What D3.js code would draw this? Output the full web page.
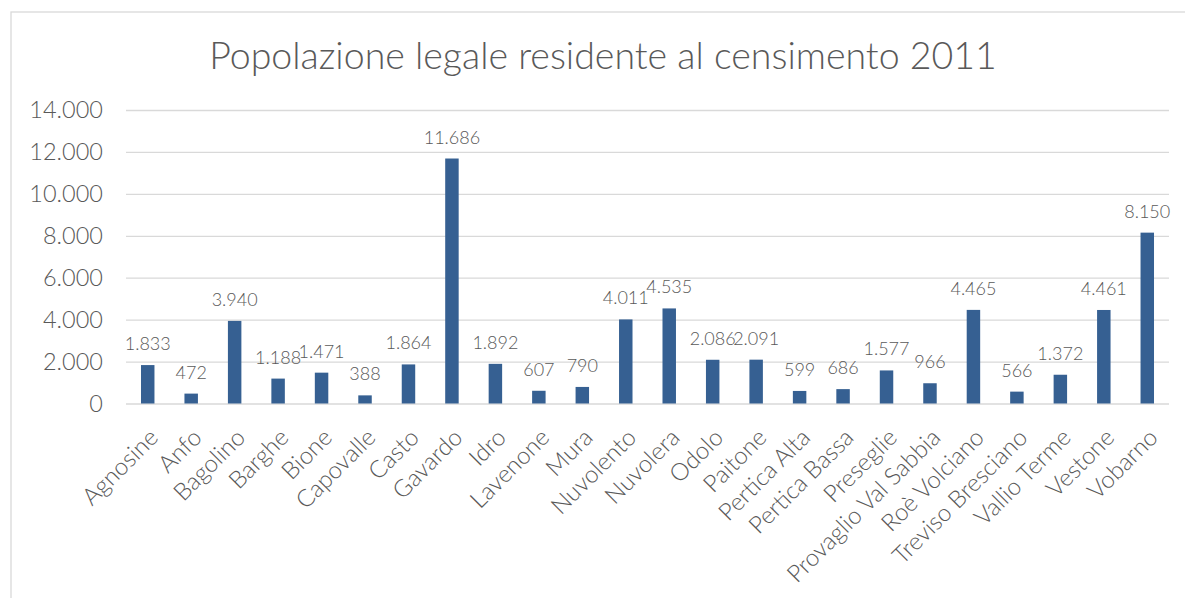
<!DOCTYPE html>
<html><head><meta charset="utf-8">
<script src="https://cdn.jsdelivr.net/npm/d3@7"></script>
<style>
html,body{margin:0;padding:0;background:#fff;}
svg{display:block;font-family:Lato,"Open Sans",sans-serif;font-weight:300;}
</style></head>
<body><svg id="c" width="1185" height="598"></svg>
<script>
const categories = ["Agnosine","Anfo","Bagolino","Barghe","Bione","Capovalle","Casto","Gavardo","Idro","Lavenone","Mura","Nuvolento","Nuvolera","Odolo","Paitone","Pertica Alta","Pertica Bassa","Preseglie","Provaglio Val Sabbia","Roè Volciano","Treviso Bresciano","Vallio Terme","Vestone","Vobarno"];
const values = [1833,472,3940,1188,1471,388,1864,11686,1892,607,790,4011,4535,2086,2091,599,686,1577,966,4465,566,1372,4461,8150];
const yTicks = [0,2000,4000,6000,8000,10000,12000,14000];
const title = "Popolazione legale residente al censimento 2011";

const svg = d3.select("#c");
const fmt = v => d3.format(",")(v).replace(/,/g,".");

// chart frame
svg.append("rect").attr("x",11).attr("y",12).attr("width",1200).attr("height",620)
  .attr("fill","#fff").attr("stroke","#d9d9d9").attr("stroke-width",1.3);

const L=126, R=1169, T=110, B=403.5;
const x = d3.scaleBand().domain(categories).range([L,R]).paddingInner(0.69).paddingOuter(0.345);
const y = d3.scaleLinear().domain([0,14000]).range([B,T]);

// title
svg.append("text").attr("x",603).attr("y",69).attr("text-anchor","middle")
  .attr("font-size",37.5).attr("fill","#595959").text(title);

// gridlines + y labels
const ya = svg.append("g").attr("transform",`translate(${L},0)`)
  .call(d3.axisLeft(y).tickValues(yTicks).tickSize(-(R-L)).tickPadding(23).tickFormat(fmt));
ya.select(".domain").remove();
ya.selectAll(".tick line").attr("stroke","#d9d9d9").attr("stroke-width",1.3);
ya.selectAll(".tick text").attr("font-size",23.5).attr("fill","#595959")
  .attr("font-family","Lato").attr("font-weight",300);

// bars
svg.append("g").selectAll("rect").data(values).join("rect")
  .attr("x",(d,i)=>x(categories[i])).attr("width",x.bandwidth())
  .attr("y",d=>y(d)).attr("height",d=>B-y(d)).attr("fill","#366092");

// data labels
svg.append("g").selectAll("text").data(values).join("text")
  .attr("x",(d,i)=>x(categories[i])+x.bandwidth()/2).attr("y",d=>y(d)-15)
  .attr("text-anchor","middle").attr("font-size",18).attr("fill","#595959").text(d=>fmt(d));

// x labels
svg.append("g").selectAll("text").data(categories).join("text")
  .attr("transform",c=>`translate(${x(c)+x.bandwidth()/2+12},439) rotate(-45)`)
  .attr("text-anchor","end").attr("font-size",24).attr("fill","#595959").text(c=>c);
</script></body></html>
